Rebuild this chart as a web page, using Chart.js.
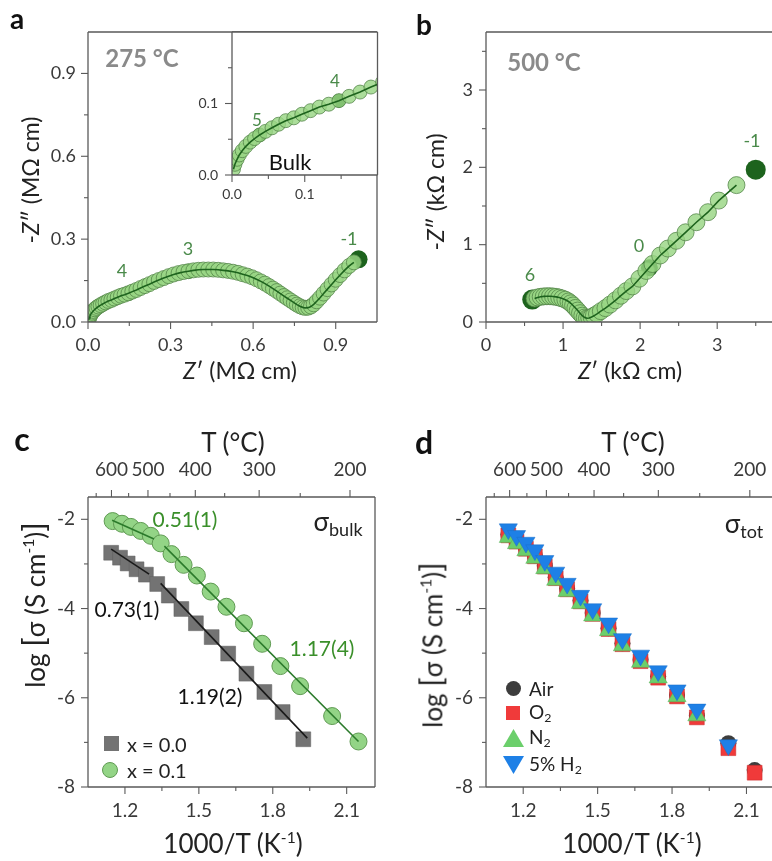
<!DOCTYPE html>
<html>
<head>
<meta charset="utf-8">
<script src="https://cdn.jsdelivr.net/npm/chart.js@4.4.1/dist/chart.umd.min.js"></script>
<style>
html, body { margin: 0; padding: 0; width: 772px; height: 861px; overflow: hidden; background: #fff; }
body { position: relative; font-family: Lato, "Noto Sans", sans-serif; color: #222; }
canvas { position: absolute; }
.t { position: absolute; white-space: nowrap; line-height: 1; transform: translate(-50%, -50%); z-index: 5; }
.l { position: absolute; white-space: nowrap; line-height: 1; transform: translate(0, -50%); z-index: 5; }
.rot { transform: translate(-50%, -50%) rotate(-90deg); }
.pl { font-weight: bold; color: #111; }
.grn { color: #4a8a4a; font-size: 18px; }
.mk { position: absolute; z-index: 5; }
sub { font-size: 0.65em; vertical-align: -0.25em; }
sup { font-size: 0.6em; vertical-align: 0.7em; }
</style>
</head>
<body>
<canvas id="chartA" width="386" height="370" style="left:0;top:0"></canvas>
<canvas id="chartInset" width="196" height="185" style="left:190px;top:20px;z-index:2"></canvas>
<canvas id="chartB" width="400" height="370" style="left:386px;top:0"></canvas>
<canvas id="chartC" width="386" height="420" style="left:0;top:440px"></canvas>
<canvas id="chartD" width="400" height="420" style="left:386px;top:440px"></canvas>

<!-- panel a -->
<div class="t pl" style="left:17px;top:18px;font-size:28px">a</div>
<div class="t rot" style="left:30px;top:180px;font-size:23px">-<i>Z</i>″ (MΩ cm)</div>
<div class="t" style="left:240px;top:370px;font-size:23px"><i>Z</i>′ (MΩ cm)</div>
<div class="t" style="left:142px;top:58px;font-size:24px;font-weight:bold;color:#8a8a8a">275 °C</div>
<div class="t grn" style="left:122px;top:270px">4</div>
<div class="t grn" style="left:188px;top:248px">3</div>
<div class="t grn" style="left:349px;top:238px">-1</div>
<div class="t grn" style="left:257px;top:119px;font-size:17px">5</div>
<div class="t grn" style="left:335px;top:80px;font-size:17px">4</div>
<div class="t" style="left:290px;top:162px;font-size:22px;color:#111">Bulk</div>

<!-- panel b -->
<div class="t pl" style="left:424px;top:24px;font-size:28px">b</div>
<div class="t rot" style="left:435px;top:192px;font-size:23px">-<i>Z</i>″ (kΩ cm)</div>
<div class="t" style="left:630px;top:370px;font-size:23px"><i>Z</i>′ (kΩ cm)</div>
<div class="t" style="left:544px;top:62px;font-size:24px;font-weight:bold;color:#8a8a8a">500 °C</div>
<div class="t grn" style="left:752px;top:140px">-1</div>
<div class="t grn" style="left:639px;top:245px">0</div>
<div class="t grn" style="left:530px;top:274px">6</div>

<!-- panel c -->
<div class="t pl" style="left:22px;top:439px;font-size:32px">c</div>
<div class="t" style="left:233px;top:442px;font-size:26px">T (°C)</div>
<div class="t" style="left:233px;top:843px;font-size:26px">1000/T (K<sup>-1</sup>)</div>
<div class="t rot" style="left:34px;top:605px;font-size:26px">log <span style="font-size:1.2em">[</span>σ (S cm<sup>-1</sup>)<span style="font-size:1.2em">]</span></div>
<div class="t" style="left:338px;top:523px;font-size:26px">σ<sub style="font-size:18px">bulk</sub></div>
<div class="t" style="left:185px;top:518px;font-size:21px;color:#3a8f2a">0.51(1)</div>
<div class="t" style="left:127px;top:608px;font-size:21px;color:#111">0.73(1)</div>
<div class="t" style="left:322px;top:647px;font-size:21px;color:#3a8f2a">1.17(4)</div>
<div class="t" style="left:210px;top:695px;font-size:21px;color:#111">1.19(2)</div>
<div class="mk" style="left:104px;top:736px;width:15px;height:15px;background:#737373"></div>
<div class="mk" style="left:102px;top:762px;width:16px;height:16px;border-radius:50%;background:#93d486;border:1px solid #5f9a52;box-sizing:border-box"></div>
<div class="l" style="left:127px;top:744px;font-size:20px">x = 0.0</div>
<div class="l" style="left:127px;top:770px;font-size:20px">x = 0.1</div>

<!-- panel d -->
<div class="t pl" style="left:424px;top:442px;font-size:32px">d</div>
<div class="t" style="left:633px;top:442px;font-size:26px">T (°C)</div>
<div class="t" style="left:632px;top:843px;font-size:26px">1000/T (K<sup>-1</sup>)</div>
<div class="t rot" style="left:431px;top:645px;font-size:26px">log <span style="font-size:1.2em">[</span>σ (S cm<sup>-1</sup>)<span style="font-size:1.2em">]</span></div>
<div class="t" style="left:744px;top:525px;font-size:26px">σ<sub style="font-size:18px">tot</sub></div>
<div class="mk" style="left:506px;top:681px;width:15px;height:15px;border-radius:50%;background:#3d3d3d"></div>
<div class="mk" style="left:506px;top:706px;width:14px;height:14px;background:#f03a3a"></div>
<svg class="mk" style="left:503px;top:729px" width="21" height="18"><polygon points="10.5,0 21,18 0,18" fill="#6bcf6b"/></svg>
<svg class="mk" style="left:503px;top:756px" width="21" height="18"><polygon points="0,0 21,0 10.5,18" fill="#1e80e6"/></svg>
<div class="l" style="left:529px;top:688px;font-size:19px">Air</div>
<div class="l" style="left:529px;top:713px;font-size:19px">O<sub>2</sub></div>
<div class="l" style="left:529px;top:738px;font-size:19px">N<sub>2</sub></div>
<div class="l" style="left:529px;top:765px;font-size:19px">5% H<sub>2</sub></div>

<script>
// ---- panel a: Nyquist plot at 275 C (MOhm cm) ----
const aZre = [0.002, 0.004, 0.007, 0.010, 0.014, 0.019, 0.025, 0.031, 0.038, 0.046, 0.055, 0.064, 0.074, 0.085, 0.096,
  0.108, 0.120, 0.133, 0.147, 0.161, 0.176, 0.191, 0.207, 0.223, 0.240, 0.257, 0.275, 0.293, 0.311, 0.329, 0.347,
  0.365, 0.383, 0.401, 0.419, 0.437, 0.455, 0.473, 0.491, 0.509, 0.527, 0.545, 0.562, 0.579, 0.596, 0.612, 0.628,
  0.643, 0.658, 0.672, 0.686, 0.699, 0.712, 0.724, 0.736, 0.748, 0.759, 0.770, 0.780, 0.790, 0.800, 0.810, 0.820,
  0.831, 0.843, 0.856, 0.870, 0.885, 0.900, 0.916, 0.932, 0.949, 0.966];
const aZim = [0.008, 0.015, 0.022, 0.028, 0.034, 0.040, 0.046, 0.051, 0.056, 0.061, 0.066, 0.071, 0.076, 0.080, 0.085,
  0.090, 0.095, 0.099, 0.104, 0.110, 0.116, 0.123, 0.130, 0.137, 0.145, 0.152, 0.159, 0.166, 0.172, 0.177, 0.181,
  0.184, 0.187, 0.189, 0.190, 0.190, 0.190, 0.189, 0.187, 0.185, 0.182, 0.178, 0.173, 0.168, 0.162, 0.155, 0.147,
  0.139, 0.130, 0.121, 0.112, 0.103, 0.094, 0.086, 0.078, 0.070, 0.063, 0.057, 0.053, 0.051, 0.052, 0.056, 0.064,
  0.075, 0.088, 0.103, 0.119, 0.136, 0.153, 0.170, 0.187, 0.203, 0.216];
const aDecadeRe = [0.038, 0.147, 0.365];   // log f = 5, 4, 3
const aDecadeIm = [0.056, 0.104, 0.184];
const aEndRe = [0.983], aEndIm = [0.227];   // log f = -1
const aTicks = [0, 0.3, 0.6, 0.9];
const aMinor = [0.15, 0.45, 0.75];
const insetTicks = [0, 0.1];
const insetMinor = [0.05, 0.15];

// ---- panel b: Nyquist plot at 500 C (kOhm cm) ----
const bZre = [0.63, 0.67, 0.71, 0.75, 0.79, 0.83, 0.87, 0.91, 0.95, 0.99, 1.03, 1.07, 1.10, 1.13, 1.16, 1.19, 1.22,
  1.25, 1.28, 1.31, 1.34, 1.37, 1.40, 1.44, 1.49, 1.55, 1.61, 1.68, 1.75, 1.82, 1.90, 1.99, 2.08, 2.16, 2.26, 2.36,
  2.47, 2.59, 2.73, 2.88, 3.02, 3.25];
const bZim = [0.305, 0.318, 0.326, 0.331, 0.333, 0.333, 0.330, 0.325, 0.316, 0.304, 0.288, 0.266, 0.242, 0.214,
  0.182, 0.148, 0.114, 0.082, 0.058, 0.048, 0.052, 0.064, 0.080, 0.105, 0.140, 0.180, 0.225, 0.280, 0.340, 0.400,
  0.460, 0.560, 0.660, 0.750, 0.860, 0.950, 1.050, 1.160, 1.290, 1.420, 1.570, 1.770];
const bDecadeRe = [2.12];   // log f = 0
const bDecadeIm = [0.70];
const bEndRe = [0.60, 3.50], bEndIm = [0.29, 1.97];   // log f = 6, -1
const bTicks = [0, 1, 2, 3];
const bMinor = [0.5, 1.5, 2.5, 3.5];

// ---- panel c: bulk conductivity ----
const x00InvT = [1.144, 1.180, 1.211, 1.247, 1.285, 1.331, 1.378, 1.429, 1.488, 1.552, 1.619, 1.693, 1.766, 1.840, 1.924];
const x00LogS = [-2.75, -2.86, -2.99, -3.12, -3.24, -3.45, -3.71, -4.01, -4.33, -4.64, -5.01, -5.46, -5.87, -6.32, -6.93];
const x01InvT = [1.150, 1.188, 1.224, 1.264, 1.305, 1.345, 1.389, 1.438, 1.492, 1.548, 1.612, 1.683, 1.757, 1.831, 1.911, 2.041, 2.148];
const x01LogS = [-2.04, -2.10, -2.17, -2.26, -2.37, -2.54, -2.78, -3.02, -3.26, -3.62, -3.96, -4.33, -4.79, -5.29, -5.74, -6.41, -6.98];
const fitGreenLowX = [1.148, 1.318], fitGreenLowY = [-2.02, -2.44];
const fitGreenHighX = [1.360, 2.148], fitGreenHighY = [-2.60, -6.98];
const fitBlackLowX = [1.144, 1.298], fitBlackLowY = [-2.67, -3.23];
const fitBlackHighX = [1.345, 1.940], fitBlackHighY = [-3.435, -6.905];

// ---- panel d: total conductivity in different atmospheres ----
const dInvT = [1.140, 1.173, 1.211, 1.247, 1.287, 1.331, 1.377, 1.431, 1.480, 1.544, 1.600, 1.673, 1.744, 1.820, 1.900, 2.027, 2.133];
const airLogS = [-2.34, -2.48, -2.64, -2.81, -3.04, -3.30, -3.55, -3.82, -4.10, -4.44, -4.78, -5.15, -5.52, -5.94, -6.40, -7.02, -7.62];
const o2LogS = [-2.36, -2.50, -2.66, -2.83, -3.06, -3.32, -3.57, -3.84, -4.12, -4.46, -4.80, -5.18, -5.55, -5.97, -6.44, -7.13, -7.68];
const n2LogS = [-2.40, -2.54, -2.70, -2.87, -3.10, -3.36, -3.61, -3.88, -4.16, -4.49, -4.83, -5.20, -5.55, -5.97, -6.40];
const h2LogS = [-2.22, -2.37, -2.52, -2.69, -2.93, -3.19, -3.44, -3.71, -4.01, -4.33, -4.68, -5.05, -5.40, -5.83, -6.26, -7.06];

const invTTicks = [1.2, 1.5, 1.8, 2.1];
const invTMinor = [1.35, 1.65, 1.95];
const logTicks = [-2, -4, -6, -8];
const logMinor = [-3, -5, -7];
const tempMajor = [600, 500, 400, 300, 200];
const tempMinor = [650, 550, 450, 350, 250];

Chart.defaults.font.family = 'Lato, "Noto Sans", sans-serif';
Chart.defaults.color = '#333';
Chart.defaults.animation = false;

const toInv = t => 1000 / (t + 273.15);
const pts = (xs, ys) => ys.map((y, i) => ({ x: xs[i], y }));

const lightFill = 'rgba(152, 214, 132, 0.82)';
const lightEdge = 'rgba(80, 130, 70, 0.75)';
const darkGreen = '#1d631d';

// frame + outward major/minor ticks, drawn from the chart's scales
function frame(spec, sides, whiteBg) {
  return {
    id: 'frame',
    beforeDatasetsDraw(chart) {
      if (!whiteBg) return;
      const a = chart.chartArea, ctx = chart.ctx;
      ctx.save();
      ctx.fillStyle = '#fff';
      ctx.fillRect(a.left, a.top, a.right - a.left, a.bottom - a.top);
      ctx.restore();
    },
    afterDraw(chart) {
      const a = chart.chartArea, ctx = chart.ctx;
      ctx.save();
      ctx.strokeStyle = '#5a5a5a';
      ctx.lineWidth = 1.3;
      ctx.beginPath();
      if (sides.includes('l')) { ctx.moveTo(a.left, a.top); ctx.lineTo(a.left, a.bottom); }
      if (sides.includes('b')) { ctx.moveTo(a.left, a.bottom); ctx.lineTo(a.right, a.bottom); }
      if (sides.includes('t')) { ctx.moveTo(a.left, a.top); ctx.lineTo(a.right, a.top); }
      if (sides.includes('r')) { ctx.moveTo(a.right, a.top); ctx.lineTo(a.right, a.bottom); }
      ctx.stroke();
      ctx.lineWidth = 1.1;
      for (const id in spec) {
        const s = chart.scales[id];
        const draw = (v, len) => {
          const p = s.getPixelForValue(v);
          ctx.beginPath();
          if (s.position === 'left') { ctx.moveTo(a.left, p); ctx.lineTo(a.left - len, p); }
          else if (s.position === 'bottom') { ctx.moveTo(p, a.bottom); ctx.lineTo(p, a.bottom + len); }
          else { ctx.moveTo(p, a.top); ctx.lineTo(p, a.top - len); }
          ctx.stroke();
        };
        spec[id].major.forEach(v => draw(v, 7));
        spec[id].minor.forEach(v => draw(v, 4));
      }
      ctx.restore();
    }
  };
}

function axis(pos, min, max, ticks, fmt, size, pad, fontSize) {
  return {
    type: 'linear', position: pos, min, max,
    grid: { display: false, drawTicks: false, tickLength: 0 },
    border: { display: false },
    ticks: { color: '#3a3a3a', font: { size: fontSize }, padding: pad, autoSkip: false, maxRotation: 0, callback: fmt },
    afterBuildTicks: s => { s.ticks = ticks.map(v => ({ value: v })); },
    afterFit: s => {
      if (pos === 'left') s.width = size; else s.height = size;
      s.paddingTop = 0; s.paddingBottom = 0; s.paddingLeft = 0; s.paddingRight = 0;
    }
  };
}

const f1 = v => v.toFixed(1);
const f0 = v => String(v);
const fT = v => String(Math.round(1000 / v - 273.15));

function nyquistSets(re, im, decRe, decIm, endRe, endIm, r) {
  return [
    { data: pts(re, im), showLine: true, pointRadius: 0, borderColor: darkGreen, borderWidth: 1.6, order: 0 },
    { data: pts(re, im), pointRadius: r, backgroundColor: lightFill, borderColor: lightEdge, borderWidth: 1, order: 1 },
    { data: pts(decRe, decIm), pointRadius: r, backgroundColor: darkGreen, borderWidth: 0, order: 2 },
    { data: pts(endRe, endIm), pointRadius: r + 1.5, backgroundColor: darkGreen, borderWidth: 0, order: 2 }
  ];
}

// panel a
new Chart(document.getElementById('chartA'), {
  type: 'scatter',
  data: { datasets: nyquistSets(aZre, aZim, aDecadeRe, aDecadeIm, aEndRe, aEndIm, 7.5) },
  options: {
    responsive: false,
    layout: { padding: { top: 32, right: 8, left: 0, bottom: 0 } },
    plugins: { legend: { display: false }, tooltip: { enabled: false } },
    scales: {
      x: axis('bottom', 0, 1.05, aTicks, f1, 48, 12, 18),
      y: axis('left', 0, 1.05, aTicks, f1, 88, 12, 18)
    }
  },
  plugins: [frame({ x: { major: aTicks, minor: aMinor }, y: { major: aTicks, minor: aMinor } }, 'lbtr', false)]
});

// inset of panel a (shares the top and right edges of the main frame)
new Chart(document.getElementById('chartInset'), {
  type: 'scatter',
  data: { datasets: nyquistSets(aZre, aZim, aDecadeRe, aDecadeIm, aEndRe, aEndIm, 7) },
  options: {
    responsive: false,
    layout: { padding: { top: 12, right: 8, left: 0, bottom: 0 } },
    plugins: { legend: { display: false }, tooltip: { enabled: false } },
    scales: {
      x: axis('bottom', 0, 0.2, insetTicks, f1, 30, 11, 14),
      y: axis('left', 0, 0.2, insetTicks, f1, 42, 14, 14)
    }
  },
  plugins: [frame({ x: { major: insetTicks, minor: insetMinor }, y: { major: insetTicks, minor: insetMinor } }, 'lbtr', true)]
});

// panel b
new Chart(document.getElementById('chartB'), {
  type: 'scatter',
  data: { datasets: nyquistSets(bZre, bZim, bDecadeRe, bDecadeIm, bEndRe, bEndIm, 8.5) },
  options: {
    responsive: false,
    layout: { padding: { top: 32, right: 11, left: 0, bottom: 0 } },
    plugins: { legend: { display: false }, tooltip: { enabled: false } },
    scales: {
      x: axis('bottom', 0, 3.75, bTicks, f0, 48, 12, 18),
      y: axis('left', 0, 3.75, bTicks, f0, 100, 13, 18)
    }
  },
  plugins: [frame({ x: { major: bTicks, minor: bMinor }, y: { major: bTicks, minor: bMinor } }, 'lbtr', false)]
});

const tempSpec = { major: tempMajor.map(toInv), minor: tempMinor.map(toInv) };

// panel c
new Chart(document.getElementById('chartC'), {
  type: 'scatter',
  data: {
    datasets: [
      { data: pts(fitGreenLowX, fitGreenLowY), showLine: true, pointRadius: 0, borderColor: '#2b7a2b', borderWidth: 1.6, order: 0 },
      { data: pts(fitGreenHighX, fitGreenHighY), showLine: true, pointRadius: 0, borderColor: '#2b7a2b', borderWidth: 1.6, order: 0 },
      { data: pts(fitBlackLowX, fitBlackLowY), showLine: true, pointRadius: 0, borderColor: '#1a1a1a', borderWidth: 1.6, order: 0 },
      { data: pts(fitBlackHighX, fitBlackHighY), showLine: true, pointRadius: 0, borderColor: '#1a1a1a', borderWidth: 1.6, order: 0 },
      { label: 'x = 0.1', data: pts(x01InvT, x01LogS), pointRadius: 8.5, backgroundColor: '#93d486', borderColor: '#5f9a52', borderWidth: 1, order: 1 },
      { label: 'x = 0.0', data: pts(x00InvT, x00LogS), pointStyle: 'rect', pointRadius: 10.5, backgroundColor: '#737373', borderColor: '#5e5e5e', borderWidth: 0.5, order: 2 }
    ]
  },
  options: {
    responsive: false,
    layout: { padding: { top: 0, right: 8, left: 0, bottom: 0 } },
    plugins: { legend: { display: false }, tooltip: { enabled: false } },
    scales: {
      x: axis('bottom', 1.05, 2.215, invTTicks, f1, 73, 12, 19),
      x2: axis('top', 1.05, 2.215, tempSpec.major, fT, 57, 16, 19),
      y: axis('left', -8, -1.5, logTicks, f0, 88, 13, 19)
    }
  },
  plugins: [frame({ x: { major: invTTicks, minor: invTMinor }, x2: tempSpec, y: { major: logTicks, minor: logMinor } }, 'lbtr', false)]
});

// panel d
new Chart(document.getElementById('chartD'), {
  type: 'scatter',
  data: {
    datasets: [
      { label: '5% H2', data: pts(dInvT, h2LogS), pointStyle: 'triangle', rotation: 180, pointRadius: 10.5, backgroundColor: '#1e80e6', borderColor: '#1a6fc8', borderWidth: 0.5, order: 0 },
      { label: 'N2', data: pts(dInvT, n2LogS), pointStyle: 'triangle', pointRadius: 10.5, backgroundColor: '#6bcf6b', borderColor: '#58b058', borderWidth: 0.5, order: 1 },
      { label: 'O2', data: pts(dInvT, o2LogS), pointStyle: 'rect', pointRadius: 10.5, backgroundColor: '#f03a3a', borderColor: '#c92a2a', borderWidth: 0.5, order: 2 },
      { label: 'Air', data: pts(dInvT, airLogS), pointRadius: 8, backgroundColor: '#3d3d3d', borderWidth: 0, order: 3 }
    ]
  },
  options: {
    responsive: false,
    layout: { padding: { top: 0, right: 7, left: 0, bottom: 0 } },
    plugins: { legend: { display: false }, tooltip: { enabled: false } },
    scales: {
      x: axis('bottom', 1.05, 2.215, invTTicks, f1, 73, 12, 19),
      x2: axis('top', 1.05, 2.215, tempSpec.major, fT, 57, 16, 19),
      y: axis('left', -8, -1.5, logTicks, f0, 100, 13, 19)
    }
  },
  plugins: [frame({ x: { major: invTTicks, minor: invTMinor }, x2: tempSpec, y: { major: logTicks, minor: logMinor } }, 'lbtr', false)]
});
</script>
</body>
</html>
